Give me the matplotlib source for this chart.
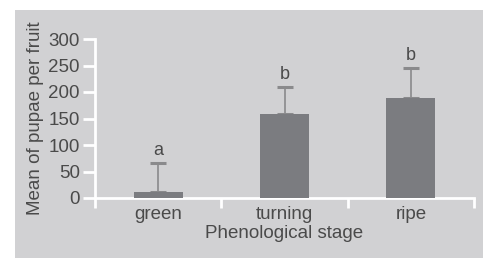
import matplotlib.pyplot as plt
from matplotlib.patches import Rectangle

plt.rcParams['font.family'] = ['Liberation Sans', 'DejaVu Sans']

stages = ['green', 'turning', 'ripe']
means = [11, 159, 188]
errors = [55, 50, 57]
letters = ['a', 'b', 'b']

txt = '#4a4a4a'
bg = '#d1d1d3'

fig = plt.figure(figsize=(4.83, 2.58), dpi=100, facecolor='white')
fig.patches.append(Rectangle((15 / 483, 0), 1, 248 / 258, transform=fig.transFigure,
                             facecolor=bg, edgecolor='none', zorder=-10))
ax = fig.add_axes([95 / 483, 60 / 258, 379 / 483, 159 / 258])
ax.set_facecolor('none')

x = range(len(stages))
ax.bar(x, means, width=0.39, color='#7b7c80', zorder=3)
ax.errorbar(x, means, yerr=[[0] * 3, errors], fmt='none', ecolor='#8a8a8c',
            elinewidth=1.2, capsize=6, capthick=2.2, zorder=2)
for i, (m, e, l) in enumerate(zip(means, errors, letters)):
    ax.annotate(l, (i, m + e), xytext=(0, 3), textcoords='offset points',
                ha='center', va='bottom', fontsize=13, color=txt)

ax.set_xlim(-0.5, 2.5)
ax.set_ylim(0, 300)
ax.set_yticks(range(0, 301, 50))
ax.set_xticks([-0.5, 0.5, 1.5, 2.5])
ax.set_xticklabels([])
ax.set_xticks(list(x), minor=True)
ax.set_xticklabels(stages, minor=True)

for s in ['top', 'right']:
    ax.spines[s].set_visible(False)
for s in ['left', 'bottom']:
    ax.spines[s].set_color('white')
    ax.spines[s].set_linewidth(2)

ax.tick_params(axis='y', direction='out', length=9, width=2, color='white',
               labelsize=13.5, labelcolor=txt, pad=2)
ax.tick_params(axis='x', which='major', direction='out', length=7, width=2, color='white')
ax.tick_params(axis='x', which='minor', length=0, labelsize=13.5, labelcolor=txt, pad=6)

ax.set_ylabel('Mean of pupae per fruit', fontsize=13.5, color=txt, labelpad=3)
ax.set_xlabel('Phenological stage', fontsize=13.5, color=txt, labelpad=1)

fig.savefig('out.png', dpi=100)
